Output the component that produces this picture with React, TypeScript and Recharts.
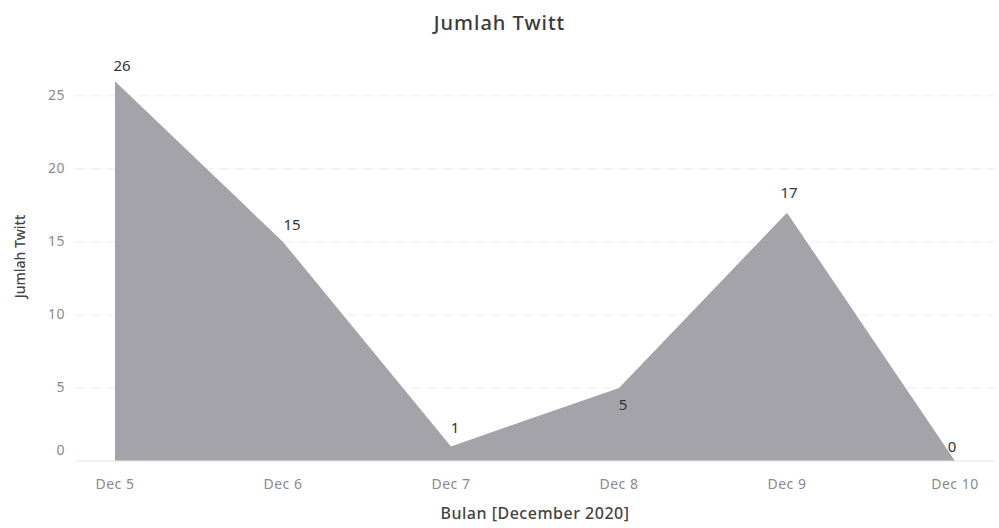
import { AreaChart, Area, XAxis, YAxis, CartesianGrid, LabelList, Label } from "recharts";

const days = ["Dec 5", "Dec 6", "Dec 7", "Dec 8", "Dec 9", "Dec 10"];
const tweets = [26, 15, 1, 5, 17, 0];
const yTicks = [0, 5, 10, 15, 20, 25];
const gridValues = [5, 10, 15, 20, 25];

const data = days.map((day, i) => ({ day, tweets: tweets[i] }));

const font = "'Noto Sans', sans-serif";

// label offsets as Tableau placed them
const labelShift = [
  { dx: 7, dy: -14 },
  { dx: 9, dy: -16 },
  { dx: 4, dy: -17 },
  { dx: 4, dy: 18 },
  { dx: 2, dy: -19 },
  { dx: -3, dy: -13 },
];

const PointLabel = (props: any) => {
  const { x, y, value, index } = props;
  const s = labelShift[index] || { dx: 0, dy: -12 };
  return (
    <text x={x + s.dx} y={y + s.dy} textAnchor="middle" dominantBaseline="middle" fontSize={15} fill="#333" fontFamily={font}>
      {value}
    </text>
  );
};

const YTick = (props: any) => {
  const { x, y, payload } = props;
  const shift = payload.value === 0 ? -10 : 0;
  return (
    <text x={x - 2} y={y + shift} textAnchor="end" dominantBaseline="middle" fontSize={14} letterSpacing={0.5} fill="#8a8a8a" fontFamily={font}>
      {payload.value}
    </text>
  );
};

export default function App() {
  return (
    <div style={{ position: "absolute", left: 0, top: 0, width: 999, height: 528, background: "#fff" }}>
      <div
        style={{
          position: "absolute",
          top: 9,
          width: 999,
          textAlign: "center",
          fontFamily: font,
          fontSize: 20,
          fontWeight: 500,
          letterSpacing: 1,
          color: "#3a3a3a",
        }}
      >
        Jumlah Twitt
      </div>
      <AreaChart width={999} height={528} data={data} margin={{ top: 52, right: 4, bottom: 37, left: 15 }}>
        <CartesianGrid vertical={false} horizontalValues={gridValues} stroke="#ececec" strokeDasharray="10 6" />
        <XAxis
          dataKey="day"
          padding={{ left: 40, right: 40 }}
          axisLine={{ stroke: "#e6e6e6" }}
          tickLine={false}
          tick={{ fontSize: 14, fill: "#8a8a8a", fontFamily: font, letterSpacing: 0.5 }}
          tickMargin={12}
          height={30}
        >
          <Label value="Bulan [December 2020]" position="insideBottom" offset={-28} fontSize={16} fontWeight={500} letterSpacing={0.5} fill="#444" fontFamily={font} />
        </XAxis>
        <YAxis
          domain={[0, 28]}
          ticks={yTicks}
          axisLine={false}
          tickLine={false}
          width={60}
          tick={<YTick />}
        >
          <Label value="Jumlah Twitt" angle={-90} position="insideLeft" offset={5} fontSize={14} fontWeight={500} fill="#444" fontFamily={font} style={{ textAnchor: "middle" }} />
        </YAxis>
        <Area
          type="linear"
          dataKey="tweets"
          stroke="none"
          fill="#a3a3a9"
          fillOpacity={1}
          isAnimationActive={false}
          dot={false}
          activeDot={false}
        >
          <LabelList dataKey="tweets" content={<PointLabel />} />
        </Area>
      </AreaChart>
    </div>
  );
}
